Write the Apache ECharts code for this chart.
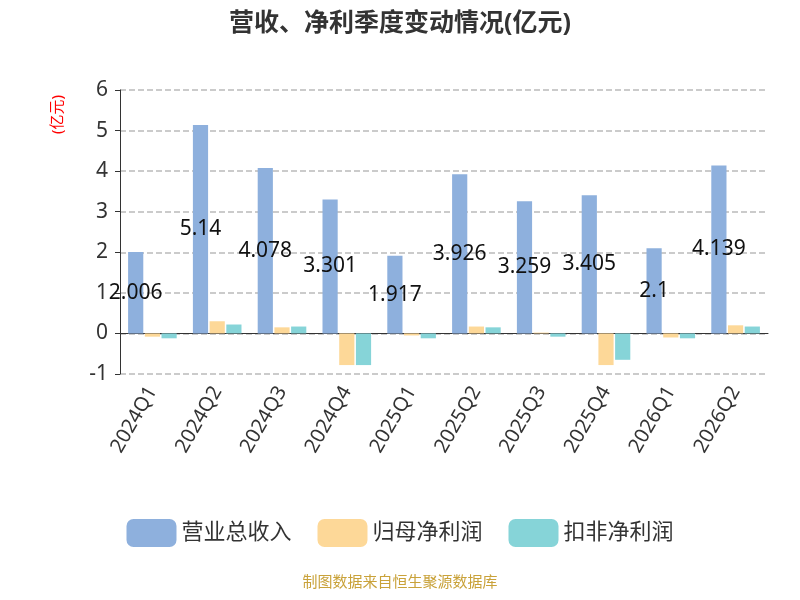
<!DOCTYPE html>
<html><head><meta charset="utf-8">
<script src="https://cdn.jsdelivr.net/npm/echarts@6/dist/echarts.min.js"></script>
<style>html,body{margin:0;padding:0}#chart-container{width:800px;height:600px}</style>
</head><body><div id="chart-container"></div>
<script>
var categories = ["2024Q1","2024Q2","2024Q3","2024Q4","2025Q1","2025Q2","2025Q3","2025Q4","2026Q1","2026Q2"];
var revenue = [2.006,5.14,4.078,3.301,1.917,3.926,3.259,3.405,2.1,4.139];
var netProfit = [-0.08,0.3,0.15,-0.78,-0.05,0.17,0.02,-0.78,-0.1,0.2];
var netProfitDeducted = [-0.12,0.22,0.17,-0.78,-0.12,0.15,-0.08,-0.65,-0.12,0.17];
var yTicks = [-1,0,1,2,3,4,5,6];

var dom = document.getElementById("chart-container");
var myChart = echarts.init(dom, null, { renderer: "canvas" });

var font = "Noto Sans, Noto Sans CJK SC";
var option = {
  textStyle: { fontFamily: font },
  title: {
    text: "营收、净利季度变动情况(亿元)",
    left: "center", top: 6,
    textStyle: { fontSize: 25, fontWeight: "bold", color: "#333", fontFamily: font }
  },
  grid: { left: 120, right: 32, top: 90, bottom: 226 },
  legend: {
    bottom: 48, itemWidth: 50, itemHeight: 28, itemGap: 26,
    itemStyle: { borderRadius: 6 },
    textStyle: { fontSize: 22, color: "#333", fontFamily: font },
    data: ["营业总收入", "归母净利润", "扣非净利润"]
  },
  graphic: [
    { type: "text", left: "center", bottom: 10,
      style: { text: "制图数据来自恒生聚源数据库", fill: "#c9a23a", fontSize: 15, fontFamily: font } },
    { type: "text", left: 50, top: 95, rotation: Math.PI / 2,
      style: { text: "(亿元)", fill: "red", fontSize: 15, fontFamily: font } }
  ],
  xAxis: {
    type: "category", data: categories,
    axisLine: { onZero: true, lineStyle: { color: "#333" } },
    axisTick: { length: 6, lineStyle: { color: "#333" } },
    axisLabel: { rotate: 60, fontSize: 20, color: "#333", margin: 14, interval: 0, fontFamily: font }
  },
  yAxis: {
    type: "value", min: yTicks[0], max: yTicks[yTicks.length - 1], interval: 1,
    axisLine: { show: true, lineStyle: { color: "#333" } },
    axisTick: { show: true, lineStyle: { color: "#333" } },
    axisLabel: { fontSize: 21, color: "#333", margin: 12, fontFamily: font },
    splitLine: { lineStyle: { type: "dashed", color: "#bbb", width: 1.5 } }
  },
  series: [
    { name: "营业总收入", type: "bar", data: revenue, barGap: "10%", barCategoryGap: "25%",
      itemStyle: { color: "#8eb0dd" },
      label: { show: true, position: "inside", color: "#111", fontSize: 21, fontFamily: font } },
    { name: "归母净利润", type: "bar", data: netProfit, itemStyle: { color: "#fdd898" } },
    { name: "扣非净利润", type: "bar", data: netProfitDeducted, itemStyle: { color: "#86d4d8" } }
  ]
};
myChart.setOption(option);
</script></body></html>
